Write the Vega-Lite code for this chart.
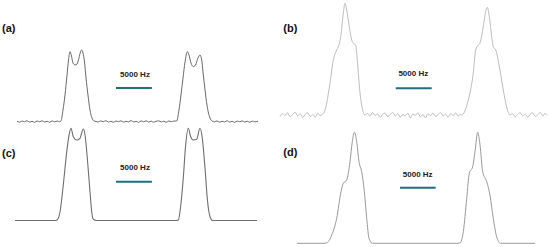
{
  "$schema": "https://vega.github.io/schema/vega-lite/v6.json",
  "padding": 0,
  "spacing": 0,
  "config": {"view": {"stroke": null}, "concat": {"spacing": 0}},
  "datasets": {
    "spectra": [
      {"panel":"a","khz":-16.74,"intensity":0.4},{"panel":"a","khz":-16.4,"intensity":-0.9},{"panel":"a","khz":-16.05,"intensity":0.6},{"panel":"a","khz":-15.7,"intensity":-0.3},{"panel":"a","khz":-15.35,"intensity":1.1},{"panel":"a","khz":-15.0,"intensity":-0.8},{"panel":"a","khz":-14.65,"intensity":0.2},{"panel":"a","khz":-14.3,"intensity":-1.2},{"panel":"a","khz":-13.95,"intensity":0.7},{"panel":"a","khz":-13.6,"intensity":-0.4},{"panel":"a","khz":-13.25,"intensity":1.0},{"panel":"a","khz":-12.9,"intensity":-0.6},{"panel":"a","khz":-12.55,"intensity":0.3},{"panel":"a","khz":-12.2,"intensity":-1.1},{"panel":"a","khz":-11.85,"intensity":0.8},{"panel":"a","khz":-11.5,"intensity":-0.5},{"panel":"a","khz":-11.15,"intensity":0.6},{"panel":"a","khz":-10.85,"intensity":-0.2},
      {"panel":"a","khz":-10.63,"intensity":0.7},{"panel":"a","khz":-10.35,"intensity":16.1},{"panel":"a","khz":-10.07,"intensity":37.1},{"panel":"a","khz":-9.79,"intensity":65.0},{"panel":"a","khz":-9.58,"intensity":86.0},{"panel":"a","khz":-9.38,"intensity":97.6},{"panel":"a","khz":-9.17,"intensity":91.6},{"panel":"a","khz":-8.96,"intensity":81.8},{"panel":"a","khz":-8.68,"intensity":79.0},{"panel":"a","khz":-8.4,"intensity":80.4},{"panel":"a","khz":-8.13,"intensity":88.8},{"panel":"a","khz":-7.92,"intensity":97.2},{"panel":"a","khz":-7.75,"intensity":100},{"panel":"a","khz":-7.57,"intensity":95.8},{"panel":"a","khz":-7.36,"intensity":83.2},{"panel":"a","khz":-7.15,"intensity":60.8},{"panel":"a","khz":-6.88,"intensity":37.1},{"panel":"a","khz":-6.6,"intensity":16.1},{"panel":"a","khz":-6.32,"intensity":4.9},{"panel":"a","khz":-6.04,"intensity":0.7},{"panel":"a","khz":-5.76,"intensity":0},
      {"panel":"a","khz":-5.45,"intensity":-0.7},{"panel":"a","khz":-5.1,"intensity":0.9},{"panel":"a","khz":-4.75,"intensity":-0.3},{"panel":"a","khz":-4.4,"intensity":1.2},{"panel":"a","khz":-4.05,"intensity":-0.8},{"panel":"a","khz":-3.7,"intensity":0.4},{"panel":"a","khz":-3.35,"intensity":-1.1},{"panel":"a","khz":-3.0,"intensity":0.6},{"panel":"a","khz":-2.65,"intensity":-0.2},{"panel":"a","khz":-2.3,"intensity":1.0},{"panel":"a","khz":-1.95,"intensity":-0.9},{"panel":"a","khz":-1.6,"intensity":0.3},{"panel":"a","khz":-1.25,"intensity":-0.5},{"panel":"a","khz":-0.9,"intensity":1.3},{"panel":"a","khz":-0.55,"intensity":-0.6},{"panel":"a","khz":-0.2,"intensity":0.2},{"panel":"a","khz":0.15,"intensity":-1.2},{"panel":"a","khz":0.5,"intensity":0.8},{"panel":"a","khz":0.85,"intensity":-0.4},{"panel":"a","khz":1.2,"intensity":1.0},{"panel":"a","khz":1.55,"intensity":-0.7},{"panel":"a","khz":1.9,"intensity":0.5},{"panel":"a","khz":2.25,"intensity":-1.0},{"panel":"a","khz":2.6,"intensity":0.3},{"panel":"a","khz":2.95,"intensity":0.9},{"panel":"a","khz":3.3,"intensity":-0.6},{"panel":"a","khz":3.65,"intensity":0.4},{"panel":"a","khz":4.0,"intensity":-1.1},{"panel":"a","khz":4.35,"intensity":0.7},{"panel":"a","khz":4.7,"intensity":-0.3},{"panel":"a","khz":5.05,"intensity":0.6},
      {"panel":"a","khz":5.44,"intensity":0.7},{"panel":"a","khz":5.76,"intensity":16.1},{"panel":"a","khz":6.04,"intensity":37.1},{"panel":"a","khz":6.32,"intensity":60.8},{"panel":"a","khz":6.6,"intensity":83.2},{"panel":"a","khz":6.92,"intensity":97.6},{"panel":"a","khz":7.15,"intensity":93.0},{"panel":"a","khz":7.43,"intensity":81.8},{"panel":"a","khz":7.75,"intensity":76.9},{"panel":"a","khz":8.06,"intensity":79.0},{"panel":"a","khz":8.4,"intensity":88.8},{"panel":"a","khz":8.68,"intensity":93.0},{"panel":"a","khz":8.92,"intensity":86.0},{"panel":"a","khz":9.1,"intensity":69.2},{"panel":"a","khz":9.38,"intensity":44.1},{"panel":"a","khz":9.65,"intensity":23.1},{"panel":"a","khz":9.86,"intensity":11.9},{"panel":"a","khz":10.07,"intensity":4.9},{"panel":"a","khz":10.35,"intensity":0.7},
      {"panel":"a","khz":10.7,"intensity":-0.5},{"panel":"a","khz":11.05,"intensity":0.8},{"panel":"a","khz":11.4,"intensity":-1.0},{"panel":"a","khz":11.75,"intensity":0.3},{"panel":"a","khz":12.1,"intensity":-0.6},{"panel":"a","khz":12.45,"intensity":1.1},{"panel":"a","khz":12.8,"intensity":-0.8},{"panel":"a","khz":13.15,"intensity":0.2},{"panel":"a","khz":13.5,"intensity":-1.2},{"panel":"a","khz":13.85,"intensity":0.6},{"panel":"a","khz":14.2,"intensity":-0.3},{"panel":"a","khz":14.55,"intensity":0.9},{"panel":"a","khz":14.9,"intensity":-0.7},{"panel":"a","khz":15.25,"intensity":0.4},{"panel":"a","khz":15.6,"intensity":-1.0},{"panel":"a","khz":15.95,"intensity":0.5},{"panel":"a","khz":16.3,"intensity":-0.4},{"panel":"a","khz":16.74,"intensity":0.3},

      {"panel":"b","khz":-18.4,"intensity":-1.5},{"panel":"b","khz":-18.05,"intensity":1.2},{"panel":"b","khz":-17.7,"intensity":-0.6},{"panel":"b","khz":-17.35,"intensity":2.0},{"panel":"b","khz":-17.0,"intensity":-1.8},{"panel":"b","khz":-16.65,"intensity":0.5},{"panel":"b","khz":-16.3,"intensity":2.4},{"panel":"b","khz":-15.95,"intensity":-0.9},{"panel":"b","khz":-15.6,"intensity":1.1},{"panel":"b","khz":-15.25,"intensity":-2.2},{"panel":"b","khz":-14.9,"intensity":0.7},{"panel":"b","khz":-14.55,"intensity":1.9},{"panel":"b","khz":-14.2,"intensity":-1.3},{"panel":"b","khz":-13.85,"intensity":0.4},{"panel":"b","khz":-13.5,"intensity":-2.0},{"panel":"b","khz":-13.15,"intensity":1.5},{"panel":"b","khz":-12.85,"intensity":-0.5},
      {"panel":"b","khz":-12.61,"intensity":0},{"panel":"b","khz":-12.15,"intensity":4.5},{"panel":"b","khz":-11.46,"intensity":28.6},{"panel":"b","khz":-11.0,"intensity":49.2},{"panel":"b","khz":-10.53,"intensity":58.2},{"panel":"b","khz":-10.31,"intensity":61.1},{"panel":"b","khz":-9.97,"intensity":70.1},{"panel":"b","khz":-9.61,"intensity":91.1},{"panel":"b","khz":-9.38,"intensity":100},{"panel":"b","khz":-9.14,"intensity":94.0},{"panel":"b","khz":-8.78,"intensity":79.1},{"panel":"b","khz":-8.44,"intensity":67.1},{"panel":"b","khz":-8.22,"intensity":64.2},{"panel":"b","khz":-7.89,"intensity":62.7},{"panel":"b","khz":-7.67,"intensity":49.2},{"panel":"b","khz":-7.29,"intensity":19.7},{"panel":"b","khz":-6.92,"intensity":4.5},{"panel":"b","khz":-6.6,"intensity":0},
      {"panel":"b","khz":-6.25,"intensity":1.4},{"panel":"b","khz":-5.9,"intensity":-1.1},{"panel":"b","khz":-5.55,"intensity":2.2},{"panel":"b","khz":-5.2,"intensity":-0.4},{"panel":"b","khz":-4.85,"intensity":1.0},{"panel":"b","khz":-4.5,"intensity":-2.1},{"panel":"b","khz":-4.15,"intensity":0.6},{"panel":"b","khz":-3.8,"intensity":1.8},{"panel":"b","khz":-3.45,"intensity":-1.4},{"panel":"b","khz":-3.1,"intensity":0.3},{"panel":"b","khz":-2.75,"intensity":2.3},{"panel":"b","khz":-2.4,"intensity":-0.8},{"panel":"b","khz":-2.05,"intensity":1.2},{"panel":"b","khz":-1.7,"intensity":-1.9},{"panel":"b","khz":-1.35,"intensity":0.5},{"panel":"b","khz":-1.0,"intensity":-0.7},{"panel":"b","khz":-0.65,"intensity":1.6},{"panel":"b","khz":-0.3,"intensity":-2.4},{"panel":"b","khz":0.05,"intensity":0.9},{"panel":"b","khz":0.4,"intensity":-0.3},{"panel":"b","khz":0.75,"intensity":2.0},{"panel":"b","khz":1.1,"intensity":-1.5},{"panel":"b","khz":1.45,"intensity":0.4},{"panel":"b","khz":1.8,"intensity":-2.6},{"panel":"b","khz":2.15,"intensity":1.1},{"panel":"b","khz":2.5,"intensity":-0.6},{"panel":"b","khz":2.85,"intensity":1.7},{"panel":"b","khz":3.2,"intensity":-1.2},{"panel":"b","khz":3.55,"intensity":0.2},{"panel":"b","khz":3.9,"intensity":2.1},{"panel":"b","khz":4.25,"intensity":-1.0},{"panel":"b","khz":4.6,"intensity":0.8},{"panel":"b","khz":4.95,"intensity":-2.0},{"panel":"b","khz":5.3,"intensity":1.3},{"panel":"b","khz":5.65,"intensity":-0.4},{"panel":"b","khz":6.0,"intensity":1.8},{"panel":"b","khz":6.35,"intensity":-1.1},{"panel":"b","khz":6.6,"intensity":0.5},
      {"panel":"b","khz":6.83,"intensity":0},{"panel":"b","khz":7.75,"intensity":13.4},{"panel":"b","khz":8.44,"intensity":37.6},{"panel":"b","khz":8.78,"intensity":58.2},{"panel":"b","khz":9.14,"intensity":62.7},{"panel":"b","khz":9.38,"intensity":64.5},{"panel":"b","khz":9.83,"intensity":79.1},{"panel":"b","khz":10.21,"intensity":94.0},{"panel":"b","khz":10.39,"intensity":96.4},{"panel":"b","khz":10.67,"intensity":88.0},{"panel":"b","khz":11.0,"intensity":70.1},{"panel":"b","khz":11.22,"intensity":61.1},{"panel":"b","khz":11.56,"intensity":58.2},{"panel":"b","khz":12.15,"intensity":40.3},{"panel":"b","khz":12.61,"intensity":22.4},{"panel":"b","khz":13.08,"intensity":7.2},{"panel":"b","khz":13.54,"intensity":0},
      {"panel":"b","khz":13.9,"intensity":1.2},{"panel":"b","khz":14.25,"intensity":-1.6},{"panel":"b","khz":14.6,"intensity":0.4},{"panel":"b","khz":14.95,"intensity":2.2},{"panel":"b","khz":15.3,"intensity":-0.8},{"panel":"b","khz":15.65,"intensity":1.0},{"panel":"b","khz":16.0,"intensity":-2.1},{"panel":"b","khz":16.35,"intensity":0.7},{"panel":"b","khz":16.7,"intensity":1.9},{"panel":"b","khz":17.05,"intensity":-1.2},{"panel":"b","khz":17.4,"intensity":0.3},{"panel":"b","khz":17.75,"intensity":2.3},{"panel":"b","khz":18.1,"intensity":-0.9},{"panel":"b","khz":18.4,"intensity":1.4},{"panel":"b","khz":18.68,"intensity":-0.5},

      {"panel":"c","khz":-17.01,"intensity":0},{"panel":"c","khz":-11.32,"intensity":0},{"panel":"c","khz":-11.0,"intensity":2.4},{"panel":"c","khz":-10.76,"intensity":9.5},{"panel":"c","khz":-10.31,"intensity":38.5},{"panel":"c","khz":-9.83,"intensity":74.6},{"panel":"c","khz":-9.51,"intensity":92.7},{"panel":"c","khz":-9.24,"intensity":100},{"panel":"c","khz":-8.92,"intensity":90.9},{"panel":"c","khz":-8.44,"intensity":87.3},{"panel":"c","khz":-7.99,"intensity":89.2},{"panel":"c","khz":-7.53,"intensity":99.2},{"panel":"c","khz":-7.29,"intensity":92.7},{"panel":"c","khz":-6.97,"intensity":67.5},{"panel":"c","khz":-6.6,"intensity":31.2},{"panel":"c","khz":-6.36,"intensity":9.5},{"panel":"c","khz":-6.14,"intensity":1.3},{"panel":"c","khz":-5.67,"intensity":0},
      {"panel":"c","khz":5.35,"intensity":0},{"panel":"c","khz":5.67,"intensity":0.5},{"panel":"c","khz":5.9,"intensity":9.5},{"panel":"c","khz":6.36,"intensity":46.1},{"panel":"c","khz":6.69,"intensity":81.9},{"panel":"c","khz":7.06,"intensity":100},{"panel":"c","khz":7.39,"intensity":90.9},{"panel":"c","khz":7.75,"intensity":87.3},{"panel":"c","khz":8.22,"intensity":88.1},{"panel":"c","khz":8.68,"intensity":100},{"panel":"c","khz":9.0,"intensity":89.2},{"panel":"c","khz":9.38,"intensity":56.6},{"panel":"c","khz":9.69,"intensity":24.1},{"panel":"c","khz":10.07,"intensity":4.1},{"panel":"c","khz":10.44,"intensity":0},{"panel":"c","khz":16.6,"intensity":0},

      {"panel":"d","khz":-16.04,"intensity":0},{"panel":"d","khz":-12.29,"intensity":0},{"panel":"d","khz":-11.92,"intensity":0.3},{"panel":"d","khz":-11.22,"intensity":7.5},{"panel":"d","khz":-10.53,"intensity":22.5},{"panel":"d","khz":-9.93,"intensity":46.5},{"panel":"d","khz":-9.61,"intensity":54.1},{"panel":"d","khz":-9.14,"intensity":57.0},{"panel":"d","khz":-8.68,"intensity":73.5},{"panel":"d","khz":-8.36,"intensity":91.5},{"panel":"d","khz":-8.08,"intensity":100},{"panel":"d","khz":-7.75,"intensity":91.5},{"panel":"d","khz":-7.43,"intensity":73.5},{"panel":"d","khz":-7.06,"intensity":64.5},{"panel":"d","khz":-6.69,"intensity":46.5},{"panel":"d","khz":-6.36,"intensity":22.5},{"panel":"d","khz":-6.04,"intensity":4.5},{"panel":"d","khz":-5.58,"intensity":0},
      {"panel":"d","khz":6.18,"intensity":0},{"panel":"d","khz":6.6,"intensity":0.3},{"panel":"d","khz":7.06,"intensity":10.5},{"panel":"d","khz":7.53,"intensity":40.5},{"panel":"d","khz":7.89,"intensity":63.1},{"panel":"d","khz":8.36,"intensity":69.0},{"panel":"d","khz":8.68,"intensity":82.5},{"panel":"d","khz":9.06,"intensity":100},{"panel":"d","khz":9.38,"intensity":88.6},{"panel":"d","khz":9.75,"intensity":64.5},{"panel":"d","khz":10.31,"intensity":55.5},{"panel":"d","khz":10.76,"intensity":43.5},{"panel":"d","khz":11.22,"intensity":22.5},{"panel":"d","khz":11.69,"intensity":5.9},{"panel":"d","khz":12.24,"intensity":0},{"panel":"d","khz":17.01,"intensity":0}
    ],
    "notes": [
      {"panel":"a","kind":"bar","khz":-3.0,"khz2":2.0,"intensity":46.9,"text":""},
      {"panel":"a","kind":"scale","khz":-0.35,"khz2":null,"intensity":65.0,"text":"5000 Hz"},
      {"panel":"a","kind":"label","khz":-18.82,"khz2":null,"intensity":129.4,"text":"(a)"},
      {"panel":"b","kind":"bar","khz":-2.33,"khz2":2.67,"intensity":23.9,"text":""},
      {"panel":"b","kind":"scale","khz":0.11,"khz2":null,"intensity":36.7,"text":"5000 Hz"},
      {"panel":"b","kind":"label","khz":-17.94,"khz2":null,"intensity":76.7,"text":"(b)"},
      {"panel":"c","kind":"bar","khz":-3.0,"khz2":2.0,"intensity":42.1,"text":""},
      {"panel":"c","kind":"scale","khz":-0.35,"khz2":null,"intensity":56.6,"text":"5000 Hz"},
      {"panel":"c","kind":"label","khz":-18.82,"khz2":null,"intensity":72.1,"text":"(c)"},
      {"panel":"d","kind":"bar","khz":-1.74,"khz2":3.22,"intensity":50.1,"text":""},
      {"panel":"d","kind":"scale","khz":0.72,"khz2":null,"intensity":61.5,"text":"5000 Hz"},
      {"panel":"d","kind":"label","khz":-17.94,"khz2":null,"intensity":81.1,"text":"(d)"}
    ]
  },
  "vconcat": [
    {"spacing": 0, "hconcat": [
      {"width": 275, "height": 124,
       "encoding": {"x": {"field": "khz", "type": "quantitative", "scale": {"domain": [-19.1, 19.1], "nice": false, "zero": false}, "axis": null},
                    "y": {"field": "intensity", "type": "quantitative", "scale": {"domain": [-3.5, 169.9], "nice": false, "zero": false}, "axis": null}},
       "layer": [
         {"data": {"name": "spectra"}, "transform": [{"filter": "datum.panel === 'a'"}], "mark": {"type": "line", "color": "#6a6a6a", "strokeWidth": 1, "interpolate": "monotone"}},
         {"data": {"name": "notes"}, "transform": [{"filter": "datum.panel === 'a' && datum.kind === 'bar'"}], "mark": {"type": "rule", "color": "#1f6f7c", "strokeWidth": 2}, "encoding": {"x2": {"field": "khz2"}}},
         {"data": {"name": "notes"}, "transform": [{"filter": "datum.panel === 'a' && datum.kind === 'scale'"}], "mark": {"type": "text", "font": "Liberation Sans", "fontWeight": "bold", "fontSize": 8, "color": "#222222", "align": "center", "baseline": "middle"}, "encoding": {"text": {"field": "text"}}},
         {"data": {"name": "notes"}, "transform": [{"filter": "datum.panel === 'a' && datum.kind === 'label'"}], "mark": {"type": "text", "font": "Liberation Sans", "fontWeight": "bold", "fontSize": 11, "color": "#111111", "align": "left", "baseline": "middle"}, "encoding": {"text": {"field": "text"}}}
       ]},
      {"width": 275, "height": 124,
       "encoding": {"x": {"field": "khz", "type": "quantitative", "scale": {"domain": [-19.1, 19.1], "nice": false, "zero": false}, "axis": null},
                    "y": {"field": "intensity", "type": "quantitative", "scale": {"domain": [-8.06, 102.96], "nice": false, "zero": false}, "axis": null}},
       "layer": [
         {"data": {"name": "spectra"}, "transform": [{"filter": "datum.panel === 'b'"}], "mark": {"type": "line", "color": "#bdbdbd", "strokeWidth": 1, "interpolate": "monotone"}},
         {"data": {"name": "notes"}, "transform": [{"filter": "datum.panel === 'b' && datum.kind === 'bar'"}], "mark": {"type": "rule", "color": "#1f6f7c", "strokeWidth": 2}, "encoding": {"x2": {"field": "khz2"}}},
         {"data": {"name": "notes"}, "transform": [{"filter": "datum.panel === 'b' && datum.kind === 'scale'"}], "mark": {"type": "text", "font": "Liberation Sans", "fontWeight": "bold", "fontSize": 8, "color": "#222222", "align": "center", "baseline": "middle"}, "encoding": {"text": {"field": "text"}}},
         {"data": {"name": "notes"}, "transform": [{"filter": "datum.panel === 'b' && datum.kind === 'label'"}], "mark": {"type": "text", "font": "Liberation Sans", "fontWeight": "bold", "fontSize": 11, "color": "#111111", "align": "left", "baseline": "middle"}, "encoding": {"text": {"field": "text"}}}
       ]}
    ]},
    {"spacing": 0, "hconcat": [
      {"width": 275, "height": 123,
       "encoding": {"x": {"field": "khz", "type": "quantitative", "scale": {"domain": [-19.1, 19.1], "nice": false, "zero": false}, "axis": null},
                    "y": {"field": "intensity", "type": "quantitative", "scale": {"domain": [-29.83, 103.58], "nice": false, "zero": false}, "axis": null}},
       "layer": [
         {"data": {"name": "spectra"}, "transform": [{"filter": "datum.panel === 'c'"}], "mark": {"type": "line", "color": "#6e6e6e", "strokeWidth": 1.1, "interpolate": "monotone"}},
         {"data": {"name": "notes"}, "transform": [{"filter": "datum.panel === 'c' && datum.kind === 'bar'"}], "mark": {"type": "rule", "color": "#1f6f7c", "strokeWidth": 2}, "encoding": {"x2": {"field": "khz2"}}},
         {"data": {"name": "notes"}, "transform": [{"filter": "datum.panel === 'c' && datum.kind === 'scale'"}], "mark": {"type": "text", "font": "Liberation Sans", "fontWeight": "bold", "fontSize": 8, "color": "#222222", "align": "center", "baseline": "middle"}, "encoding": {"text": {"field": "text"}}},
         {"data": {"name": "notes"}, "transform": [{"filter": "datum.panel === 'c' && datum.kind === 'label'"}], "mark": {"type": "text", "font": "Liberation Sans", "fontWeight": "bold", "fontSize": 11, "color": "#111111", "align": "left", "baseline": "middle"}, "encoding": {"text": {"field": "text"}}}
       ]},
      {"width": 275, "height": 123,
       "encoding": {"x": {"field": "khz", "type": "quantitative", "scale": {"domain": [-19.1, 19.1], "nice": false, "zero": false}, "axis": null},
                    "y": {"field": "intensity", "type": "quantitative", "scale": {"domain": [-4.23, 106.58], "nice": false, "zero": false}, "axis": null}},
       "layer": [
         {"data": {"name": "spectra"}, "transform": [{"filter": "datum.panel === 'd'"}], "mark": {"type": "line", "color": "#9a9a9a", "strokeWidth": 1, "interpolate": "monotone"}},
         {"data": {"name": "notes"}, "transform": [{"filter": "datum.panel === 'd' && datum.kind === 'bar'"}], "mark": {"type": "rule", "color": "#1f6f7c", "strokeWidth": 2}, "encoding": {"x2": {"field": "khz2"}}},
         {"data": {"name": "notes"}, "transform": [{"filter": "datum.panel === 'd' && datum.kind === 'scale'"}], "mark": {"type": "text", "font": "Liberation Sans", "fontWeight": "bold", "fontSize": 8, "color": "#222222", "align": "center", "baseline": "middle"}, "encoding": {"text": {"field": "text"}}},
         {"data": {"name": "notes"}, "transform": [{"filter": "datum.panel === 'd' && datum.kind === 'label'"}], "mark": {"type": "text", "font": "Liberation Sans", "fontWeight": "bold", "fontSize": 11, "color": "#111111", "align": "left", "baseline": "middle"}, "encoding": {"text": {"field": "text"}}}
       ]}
    ]}
  ]
}
